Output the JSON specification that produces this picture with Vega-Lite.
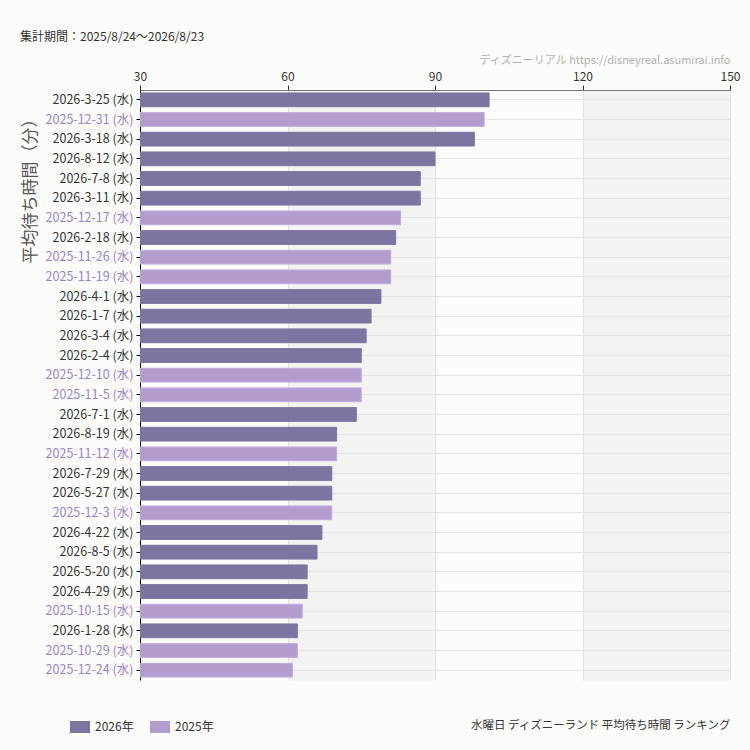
{
  "$schema": "https://vega.github.io/schema/vega-lite/v6.json",
  "width": 590,
  "height": 590,
  "autosize": {"type": "none"},
  "padding": {"left": 140, "top": 90, "right": 20, "bottom": 70},
  "background": "#fcfdfb",
  "title": {
    "text": "集計期間：2025/8/24〜2026/8/23",
    "anchor": "start",
    "frame": "group",
    "dx": -120,
    "dy": -6,
    "fontSize": 12,
    "fontWeight": "normal",
    "color": "#333333",
    "font": "Noto Sans CJK JP"
  },
  "config": {
    "view": {"stroke": null, "fill": "#fcfdfb"},
    "font": "Noto Sans CJK JP",
    "axis": {"labelFont": "Noto Sans CJK JP", "titleFont": "Noto Sans CJK JP"}
  },
  "data": {
    "values": [
      {"date": "2026-3-25 (水)", "year": "2026年", "wait": 101},
      {"date": "2025-12-31 (水)", "year": "2025年", "wait": 100},
      {"date": "2026-3-18 (水)", "year": "2026年", "wait": 98},
      {"date": "2026-8-12 (水)", "year": "2026年", "wait": 90},
      {"date": "2026-7-8 (水)", "year": "2026年", "wait": 87},
      {"date": "2026-3-11 (水)", "year": "2026年", "wait": 87},
      {"date": "2025-12-17 (水)", "year": "2025年", "wait": 83},
      {"date": "2026-2-18 (水)", "year": "2026年", "wait": 82},
      {"date": "2025-11-26 (水)", "year": "2025年", "wait": 81},
      {"date": "2025-11-19 (水)", "year": "2025年", "wait": 81},
      {"date": "2026-4-1 (水)", "year": "2026年", "wait": 79},
      {"date": "2026-1-7 (水)", "year": "2026年", "wait": 77},
      {"date": "2026-3-4 (水)", "year": "2026年", "wait": 76},
      {"date": "2026-2-4 (水)", "year": "2026年", "wait": 75},
      {"date": "2025-12-10 (水)", "year": "2025年", "wait": 75},
      {"date": "2025-11-5 (水)", "year": "2025年", "wait": 75},
      {"date": "2026-7-1 (水)", "year": "2026年", "wait": 74},
      {"date": "2026-8-19 (水)", "year": "2026年", "wait": 70},
      {"date": "2025-11-12 (水)", "year": "2025年", "wait": 70},
      {"date": "2026-7-29 (水)", "year": "2026年", "wait": 69},
      {"date": "2026-5-27 (水)", "year": "2026年", "wait": 69},
      {"date": "2025-12-3 (水)", "year": "2025年", "wait": 69},
      {"date": "2026-4-22 (水)", "year": "2026年", "wait": 67},
      {"date": "2026-8-5 (水)", "year": "2026年", "wait": 66},
      {"date": "2026-5-20 (水)", "year": "2026年", "wait": 64},
      {"date": "2026-4-29 (水)", "year": "2026年", "wait": 64},
      {"date": "2025-10-15 (水)", "year": "2025年", "wait": 63},
      {"date": "2026-1-28 (水)", "year": "2026年", "wait": 62},
      {"date": "2025-10-29 (水)", "year": "2025年", "wait": 62},
      {"date": "2025-12-24 (水)", "year": "2025年", "wait": 61}
    ]
  },
  "encoding": {
    "y": {
      "field": "date",
      "type": "nominal",
      "sort": null,
      "scale": {"paddingInner": 0.3, "paddingOuter": 0.15},
      "axis": {
        "title": "平均待ち時間（分）",
        "titleFontSize": 17,
        "titleFontWeight": "normal",
        "titleColor": "#555555",
        "titleAngle": -90,
        "titleAlign": "right",
        "titleBaseline": "middle",
        "titleX": -110,
        "titleY": 20,
        "labelFontSize": 12.5,
        "labelColor": {
          "condition": {"test": "indexof(datum.label, '2025') === 0", "value": "#9b81c9"},
          "value": "#333333"
        },
        "labelPadding": 3,
        "tickSize": 4,
        "tickColor": "#000000",
        "domainColor": "#000000",
        "bandPosition": 0.5,
        "grid": true,
        "gridColor": "#e4e5e3",
        "gridWidth": 1
      }
    }
  },
  "layer": [
    {
      "mark": {"type": "bar", "opacity": 0, "clip": true},
      "encoding": {
        "x": {
          "field": "wait",
          "type": "quantitative",
          "scale": {"domain": [30, 150], "zero": false, "nice": false},
          "axis": {
            "orient": "bottom",
            "values": [75, 135],
            "grid": true,
            "gridWidth": 147.5,
            "gridColor": "#f3f4f2",
            "labels": false,
            "ticks": false,
            "domain": false,
            "title": "水曜日 ディズニーランド 平均待ち時間 ランキング",
            "titleFontSize": 11.5,
            "titleFontWeight": "normal",
            "titleColor": "#333333",
            "titleAnchor": "end",
            "titleAlign": "right",
            "titleBaseline": "middle",
            "titleX": 590,
            "titleY": 45
          }
        }
      }
    },
    {
      "mark": {"type": "bar", "strokeWidth": 1, "clip": true},
      "encoding": {
        "x": {
          "field": "wait",
          "type": "quantitative",
          "scale": {"domain": [30, 150], "zero": false, "nice": false},
          "axis": {
            "orient": "top",
            "values": [30, 60, 90, 120, 150],
            "grid": true,
            "gridColor": "#e4e5e3",
            "labelFontSize": 12,
            "labelColor": "#333333",
            "labelFlush": false,
            "tickColor": "#333333",
            "tickSize": 5,
            "domainColor": "#777777",
            "title": "ディズニーリアル https://disneyreal.asumirai.info",
            "titleFontSize": 11,
            "titleFontWeight": "normal",
            "titleColor": "#b0b0b0",
            "titleAnchor": "end",
            "titleAlign": "right",
            "titleBaseline": "middle",
            "titleX": 590,
            "titleY": -30
          }
        },
        "color": {
          "field": "year",
          "type": "nominal",
          "scale": {"domain": ["2026年", "2025年"], "range": ["#7b75a2", "#b39dce"]},
          "legend": {
            "title": null,
            "orient": "none",
            "direction": "horizontal",
            "legendX": -70,
            "legendY": 627,
            "symbolType": "M-1,-0.6H1V0.6H-1Z",
            "symbolSize": 400,
            "symbolStrokeWidth": 0,
            "symbolOpacity": 1,
            "labelFontSize": 12,
            "labelColor": "#333333",
            "labelOffset": 5,
            "columnPadding": 16
          }
        },
        "stroke": {
          "condition": {"test": "datum.year === '2025年'", "value": "#c3aae1"},
          "value": "#7b75a2"
        }
      }
    }
  ],
  "resolve": {"axis": {"x": "independent"}}
}
